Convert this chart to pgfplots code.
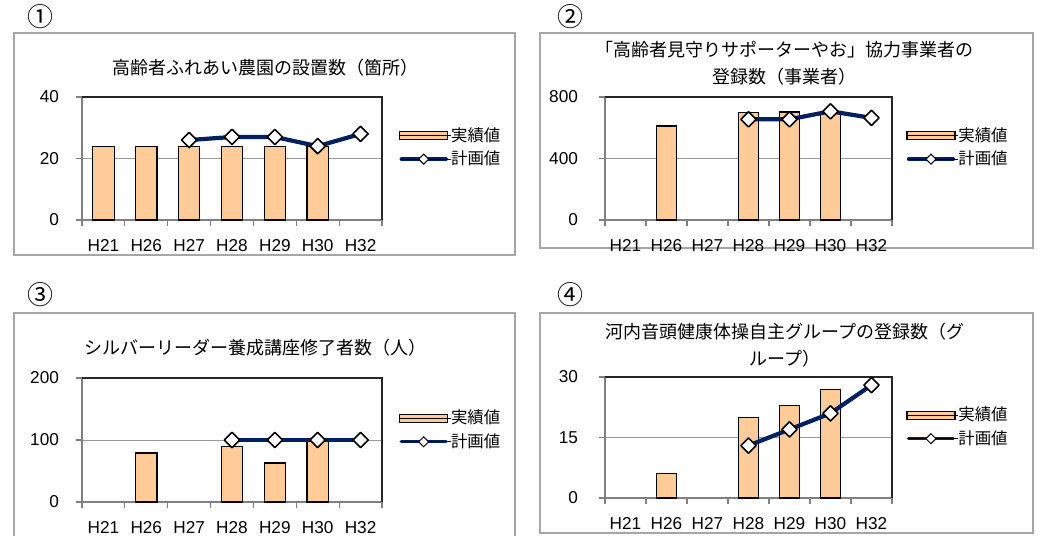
\documentclass[border=0pt]{standalone}
\usepackage{fontspec}
\setmainfont{Liberation Sans}
\newfontfamily\jp{Noto Sans CJK JP}
\usepackage{pgfplots}
\pgfplotsset{compat=1.18}
\definecolor{barfill}{HTML}{FFCC99}
\definecolor{navy}{HTML}{002060}
\definecolor{framegray}{HTML}{A6A6A6}
\pgfplotsset{
  panel/.style={
    scale only axis,
    anchor=south west,
    xmin=-0.5, xmax=6.5,
    ymin=0,
    xtick={-0.5,0.5,...,6.5},
    xticklabels={H21,H26,H27,H28,H29,H30,H32},
    x tick label as interval,
    tick align=outside,
    tick pos=left,
    major tick length=3pt,
    tick style={gray, line width=0.6pt},
    axis line style={gray, line width=0.9pt},
    ymajorgrids,
    grid style={gray!80, line width=0.5pt},
    /pgf/number format/assume math mode=true,
    ticklabel style={font=\fontsize{8.6}{10}\selectfont},
    xticklabel style={yshift=-3pt},
    legend style={draw=none, fill=none, anchor=west, inner sep=0pt, outer sep=0pt, row sep=3.2pt,
      nodes={inner sep=0pt, text height=7pt, text depth=1.5pt, font=\jp\fontsize{8.2}{10}\selectfont}},
    legend cell align=left,
    clip=false,
  },
  barplot/.style={ybar, bar width=0.5, bar shift=0pt, fill=barfill, draw=black, line width=0.6pt, forget plot},
  lineplot/.style={navy, line width=2.1pt, line join=round, mark=square*, mark size=2.7pt,
    mark options={rotate=45, fill=white, draw=black, line width=0.8pt}, forget plot},
  barlegend/.style={legend image code/.code={\draw[fill=barfill,draw=black,line width=0.6pt] (0pt,-2pt) rectangle (24pt,2pt); \path (0pt,0pt) -- (25.5pt,0pt);}},
  linelegend/.style={legend image code/.code={\draw[navy, line width=1.7pt, line cap=round] (0.8pt,0pt) -- (23.2pt,0pt); \path (0pt,0pt)--(25.5pt,0pt);
      \draw[fill=white,draw=black,line width=0.5pt] (12pt,2.5pt) -- (14.5pt,0pt) -- (12pt,-2.5pt) -- (9.5pt,0pt) -- cycle;}},
}
\begin{document}
\begin{tikzpicture}
\useasboundingbox (0pt,0pt) rectangle (526pt,267.5pt);
% frames
\draw[framegray, line width=0.8pt] (7pt,140pt) rectangle (257.5pt,251pt);
\draw[framegray, line width=0.8pt] (270pt,143.5pt) rectangle (516.5pt,251pt);
\draw[framegray, line width=0.8pt] (7pt,-5pt) rectangle (257.5pt,111pt);
\draw[framegray, line width=0.8pt] (270pt,1pt) rectangle (516.5pt,111pt);
% circled numbers
\node[font=\jp\fontsize{13}{13}\selectfont] at (20pt,259pt) {①};
\node[font=\jp\fontsize{13}{13}\selectfont] at (285pt,259pt) {②};
\node[font=\jp\fontsize{13}{13}\selectfont] at (20pt,120pt) {③};
\node[font=\jp\fontsize{13}{13}\selectfont] at (285pt,120pt) {④};
% titles
\node[font=\jp\fontsize{9}{13.5}\selectfont, align=center] at (132.5pt,233.5pt) {高齢者ふれあい農園の設置数（箇所）};
\node[font=\jp\fontsize{9}{13.5}\selectfont, align=center] at (392pt,235.75pt) {「高齢者見守りサポーターやお」協力事業者の\\登録数（事業者）};
\node[font=\jp\fontsize{9}{13.5}\selectfont, align=center] at (127.5pt,93.5pt) {シルバーリーダー養成講座修了者数（人）};
\node[font=\jp\fontsize{9}{13.5}\selectfont, align=center] at (392.5pt,94.8pt) {河内音頭健康体操自主グループの登録数（グ\\ループ）};

% panel 1
\begin{axis}[panel, at={(41pt,157.5pt)}, width=150pt, height=61.5pt,
  ymax=40, ytick={0,20,40}, yticklabel style={xshift=-5pt},
  legend style={at={(axis description cs:1.057,0.59)}}]
\addplot[barplot] coordinates {(0,24) (1,24) (2,24) (3,24) (4,24) (5,24)};
\addplot[lineplot] coordinates {(2,26) (3,27) (4,27) (5,24) (6,28)};
\addlegendimage{barlegend}
\addlegendentry{実績値}
\addlegendimage{linelegend}
\addlegendentry{計画値}
\draw[black!85, line width=0.8pt] (rel axis cs:0,1) -- (rel axis cs:1,1) -- (rel axis cs:1,0);
\end{axis}

% panel 2
\begin{axis}[panel, at={(302.5pt,157.5pt)}, width=143.5pt, height=61.5pt,
  ymax=800, ytick={0,400,800}, yticklabel style={xshift=-7pt},
  legend style={at={(axis description cs:1.05,0.59)}}]
\addplot[barplot] coordinates {(1,612) (3,698) (4,702) (5,700)};
\addplot[lineplot] coordinates {(3,655) (4,655) (5,707) (6,664)};
\addlegendimage{barlegend}
\addlegendentry{実績値}
\addlegendimage{linelegend}
\addlegendentry{計画値}
\draw[black!85, line width=0.8pt] (rel axis cs:0,1) -- (rel axis cs:1,1) -- (rel axis cs:1,0);
\end{axis}

% panel 3
\begin{axis}[panel, at={(41pt,16.5pt)}, width=150pt, height=62pt,
  ymax=200, ytick={0,100,200}, yticklabel style={xshift=-5pt},
  legend style={at={(axis description cs:1.057,0.58)}}]
\addplot[barplot] coordinates {(1,79) (3,89) (4,63) (5,99)};
\addplot[lineplot] coordinates {(3,100) (4,100) (5,100) (6,100)};
\addlegendimage{barlegend}
\addlegendentry{実績値}
\addlegendimage{linelegend}
\addlegendentry{計画値}
\draw[black!85, line width=0.8pt] (rel axis cs:0,1) -- (rel axis cs:1,1) -- (rel axis cs:1,0);
\end{axis}

% panel 4
\begin{axis}[panel, at={(302.5pt,18.5pt)}, width=143.5pt, height=60.5pt,
  ymax=30, ytick={0,15,30}, yticklabel style={xshift=-7pt},
  legend style={at={(axis description cs:1.05,0.587)}}]
\addplot[barplot] coordinates {(1,6) (3,20) (4,23) (5,27)};
\addplot[lineplot] coordinates {(3,13) (4,17) (5,21) (6,28)};
\addlegendimage{barlegend}
\addlegendentry{実績値}
\addlegendimage{linelegend}
\addlegendentry{計画値}
\draw[black!85, line width=0.8pt] (rel axis cs:0,1) -- (rel axis cs:1,1) -- (rel axis cs:1,0);
\end{axis}
\end{tikzpicture}
\end{document}
